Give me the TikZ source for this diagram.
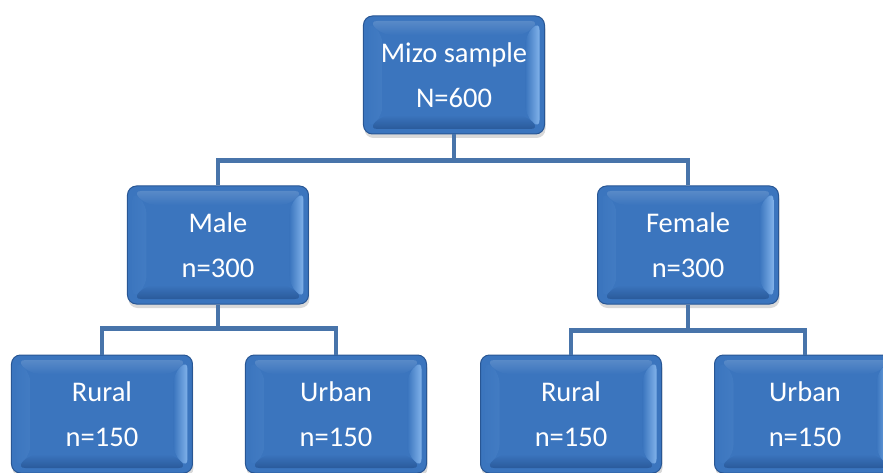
\documentclass[tikz,border=0pt]{standalone}
\usepackage{fontspec}
\setmainfont{Carlito}
\usetikzlibrary{positioning,shadows}

\definecolor{boxblue}{RGB}{59,117,190}
\definecolor{boxedge}{RGB}{40,86,148}
\definecolor{bevlight}{RGB}{128,178,234}
\definecolor{bevdark}{RGB}{42,90,155}
\definecolor{linkblue}{RGB}{72,116,170}

\begin{document}
\begin{tikzpicture}[node distance=170pt, on grid]
	\tikzstyle{unit} = [draw=boxedge, line width=1pt, fill=boxblue, rounded corners=9pt,
	  minimum width=181pt, minimum height=118pt, inner sep=0pt,
	  text=white, align=center, font=\fontsize{28.5}{45}\selectfont,
	  drop shadow={opacity=0.3, shadow xshift=1pt, shadow yshift=-4pt},
	  path picture={
	    % bevel: light sides, lighter top, darker bottom
	    \shade[left color=boxblue, right color=bevlight]
	      ([shift={(5pt,-5pt)}]path picture bounding box.north west) -- ([shift={(19pt,-19pt)}]path picture bounding box.north west)
	      -- ([shift={(19pt,19pt)}]path picture bounding box.south west) -- ([shift={(5pt,5pt)}]path picture bounding box.south west) -- cycle;
	    \shade[left color=boxblue, right color=bevlight]
	      ([shift={(-5pt,-5pt)}]path picture bounding box.north east) -- ([shift={(-19pt,-19pt)}]path picture bounding box.north east)
	      -- ([shift={(-19pt,19pt)}]path picture bounding box.south east) -- ([shift={(-5pt,5pt)}]path picture bounding box.south east) -- cycle;
	    \shade[top color=boxblue!85!white, bottom color=boxblue]
	      ([shift={(5pt,-5pt)}]path picture bounding box.north west) -- ([shift={(-5pt,-5pt)}]path picture bounding box.north east)
	      -- ([shift={(-19pt,-19pt)}]path picture bounding box.north east) -- ([shift={(19pt,-19pt)}]path picture bounding box.north west) -- cycle;
	    \shade[top color=boxblue, bottom color=bevdark]
	      ([shift={(5pt,5pt)}]path picture bounding box.south west) -- ([shift={(-5pt,5pt)}]path picture bounding box.south east)
	      -- ([shift={(-19pt,19pt)}]path picture bounding box.south east) -- ([shift={(19pt,19pt)}]path picture bounding box.south west) -- cycle;
	  }]
	\tikzstyle{link} = [draw=linkblue, line width=4.5pt]
	\useasboundingbox (-454pt,75pt) rectangle (429pt,-398pt);
	\path
	  node[unit] (root) {Mizo sample\\N=600}
	  node[unit, below left=170pt and 236pt of root] (male) {Male\\n=300}
	  node[unit, below right=170pt and 234pt of root] (female) {Female\\n=300}
	  node[unit, below left=169pt and 116pt of male] (ruralm) {Rural\\n=150}
	  node[unit, below right=169pt and 118pt of male] (urbanm) {Urban\\n=150}
	  node[unit, below left=169pt and 117pt of female] (ruralf) {Rural\\n=150}
	  node[unit, below right=169pt and 117pt of female] (urbanf) {Urban\\n=150}
	  ;
	\draw[link] (root.south) -- ++(0,-26pt) -| (male.north);
	\draw[link] (root.south) -- ++(0,-26pt) -| (female.north);
	\draw[link] (male.south) -- ++(0,-24pt) -| (ruralm.north);
	\draw[link] (male.south) -- ++(0,-24pt) -| (urbanm.north);
	\draw[link] (female.south) -- ++(0,-26pt) -| (ruralf.north);
	\draw[link] (female.south) -- ++(0,-26pt) -| (urbanf.north);
\end{tikzpicture}
\end{document}
